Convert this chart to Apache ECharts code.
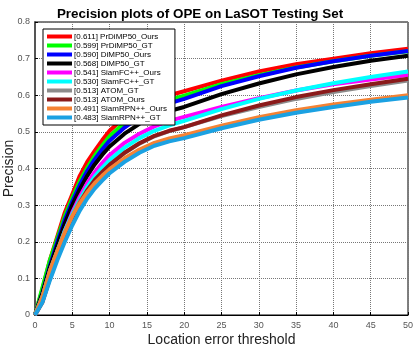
<!DOCTYPE html>
<html>
<head>
<meta charset="utf-8">
<script src="https://cdn.jsdelivr.net/npm/echarts@6/dist/echarts.min.js"></script>
<style>
html, body { margin: 0; padding: 0; background: #fff; }
#main { width: 415px; height: 350px; }
</style>
</head>
<body>
<div id="main"></div>
<script>
// 阈值（横轴取样点）
var thresholds = [0, 1, 2, 3, 4, 5, 6, 7, 8, 9, 10, 12, 14, 16, 18, 20, 25, 30, 35, 40, 45, 50];

// 各跟踪器名称（图例）
var trackerNames = [
    '[0.611] PrDiMP50_Ours',
    '[0.599] PrDiMP50_GT',
    '[0.590] DiMP50_Ours',
    '[0.568] DiMP50_GT',
    '[0.541] SiamFC++_Ours',
    '[0.530] SiamFC++_GT',
    '[0.513] ATOM_GT',
    '[0.513] ATOM_Ours',
    '[0.491] SiamRPN++_Ours',
    '[0.483] SiamRPN++_GT'
];

// 各曲线的精度值
var prdimpOurs = [0, 0.07, 0.15, 0.215, 0.28, 0.33, 0.38, 0.418, 0.448, 0.477, 0.503, 0.54, 0.565, 0.585, 0.6, 0.611, 0.64, 0.665, 0.685, 0.70, 0.715, 0.727];
var prdimpGT   = [0, 0.075, 0.15, 0.21, 0.27, 0.32, 0.365, 0.402, 0.435, 0.462, 0.488, 0.525, 0.552, 0.572, 0.587, 0.599, 0.63, 0.655, 0.676, 0.693, 0.708, 0.72];
var dimpOurs   = [0, 0.06, 0.135, 0.2, 0.26, 0.31, 0.355, 0.393, 0.425, 0.452, 0.476, 0.512, 0.54, 0.562, 0.578, 0.590, 0.625, 0.652, 0.675, 0.693, 0.708, 0.721];
var dimpGT     = [0, 0.06, 0.13, 0.19, 0.25, 0.3, 0.343, 0.38, 0.411, 0.437, 0.46, 0.495, 0.522, 0.542, 0.557, 0.568, 0.603, 0.632, 0.657, 0.677, 0.694, 0.708];
var siamfcOurs = [0, 0.04, 0.11, 0.17, 0.23, 0.28, 0.323, 0.36, 0.39, 0.415, 0.437, 0.47, 0.495, 0.515, 0.53, 0.541, 0.568, 0.592, 0.613, 0.63, 0.643, 0.655];
var siamfcGT   = [0, 0.05, 0.12, 0.175, 0.23, 0.275, 0.315, 0.35, 0.378, 0.402, 0.423, 0.457, 0.483, 0.503, 0.518, 0.530, 0.562, 0.59, 0.613, 0.633, 0.65, 0.665];
var atomGT     = [0, 0.05, 0.12, 0.175, 0.225, 0.27, 0.31, 0.34, 0.368, 0.39, 0.41, 0.442, 0.468, 0.488, 0.502, 0.513, 0.543, 0.568, 0.59, 0.609, 0.625, 0.64];
var atomOurs   = [0, 0.035, 0.1, 0.16, 0.215, 0.265, 0.305, 0.34, 0.368, 0.39, 0.41, 0.443, 0.469, 0.489, 0.503, 0.513, 0.545, 0.572, 0.595, 0.614, 0.63, 0.645];
var siamrpnOurs = [0, 0.05, 0.12, 0.175, 0.225, 0.27, 0.305, 0.335, 0.36, 0.38, 0.398, 0.428, 0.452, 0.47, 0.482, 0.491, 0.517, 0.54, 0.559, 0.575, 0.588, 0.6];
var siamrpnGT  = [0, 0.035, 0.095, 0.15, 0.2, 0.245, 0.285, 0.318, 0.345, 0.367, 0.387, 0.418, 0.443, 0.462, 0.474, 0.483, 0.51, 0.533, 0.552, 0.568, 0.582, 0.594];

var allValues = [prdimpOurs, prdimpGT, dimpOurs, dimpGT, siamfcOurs, siamfcGT, atomGT, atomOurs, siamrpnOurs, siamrpnGT];
var colorList = ['#ff0000', '#00ff00', '#0000ff', '#000000', '#ff00ff', '#00ffff', '#8c8c8c', '#8b1a1a', '#f58233', '#1ba1e2'];

var myChart = echarts.init(document.getElementById('main'));

var seriesList = [];
for (var i = 0; i < allValues.length; i++) {
    var pts = [];
    for (var j = 0; j < thresholds.length; j++) {
        pts.push([thresholds[j], allValues[i][j]]);
    }
    seriesList.push({
        name: trackerNames[i],
        type: 'line',
        data: pts,
        smooth: false,
        showSymbol: false,
        symbol: 'none',
        color: colorList[i],
        lineStyle: { width: 4, color: colorList[i], join: 'round' }
    });
}

option = {
    animation: false,
    title: {
        text: 'Precision plots of OPE on LaSOT Testing Set',
        left: 195,
        textAlign: 'center',
        top: 3,
        textStyle: {
            fontFamily: 'Liberation Sans',
            fontSize: 13.4,
            fontWeight: 'bold',
            color: '#000'
        }
    },
    legend: {
        orient: 'vertical',
        left: 43,
        top: 29,
        data: trackerNames,
        icon: 'rect',
        itemWidth: 25,
        itemHeight: 4,
        itemGap: 0,
        padding: [3, 8, 3, 4],
        backgroundColor: '#fff',
        borderColor: '#000',
        borderWidth: 1,
        borderRadius: 0,
        textStyle: {
            fontFamily: 'Liberation Sans',
            fontSize: 8,
            lineHeight: 9,
            color: '#000',
            padding: [0, 0, 0, -3]
        }
    },
    grid: {
        show: true,
        left: 35,
        right: 7,
        top: 22,
        bottom: 35,
        outerBoundsMode: 'none',
        containLabel: false,
        borderColor: '#000',
        borderWidth: 1,
        backgroundColor: '#fff'
    },
    xAxis: {
        type: 'value',
        min: 0,
        max: 50,
        interval: 5,
        name: 'Location error threshold',
        nameLocation: 'middle',
        nameGap: 18,
        nameMoveOverlap: false,
        nameTextStyle: { fontFamily: 'Liberation Sans', fontSize: 14, color: '#222' },
        axisLine: { lineStyle: { color: '#000' } },
        axisTick: { inside: true, length: 3, lineStyle: { color: '#000' } },
        axisLabel: { fontFamily: 'Liberation Sans', fontSize: 9, color: '#555', margin: 6 },
        splitLine: { show: true, lineStyle: { type: 'dotted', color: '#777' } }
    },
    yAxis: {
        type: 'value',
        min: 0,
        max: 0.8,
        interval: 0.1,
        name: 'Precision',
        nameLocation: 'middle',
        nameGap: 19,
        nameMoveOverlap: false,
        nameTextStyle: { fontFamily: 'Liberation Sans', fontSize: 14, color: '#222' },
        axisLine: { lineStyle: { color: '#555', width: 2 } },
        axisTick: { inside: true, length: 3, lineStyle: { color: '#000' } },
        axisLabel: { fontFamily: 'Liberation Sans', fontSize: 9, color: '#555', margin: 5 },
        splitLine: { show: true, lineStyle: { type: 'dotted', color: '#777' } }
    },
    series: seriesList
};

myChart.setOption(option);
</script>
</body>
</html>
